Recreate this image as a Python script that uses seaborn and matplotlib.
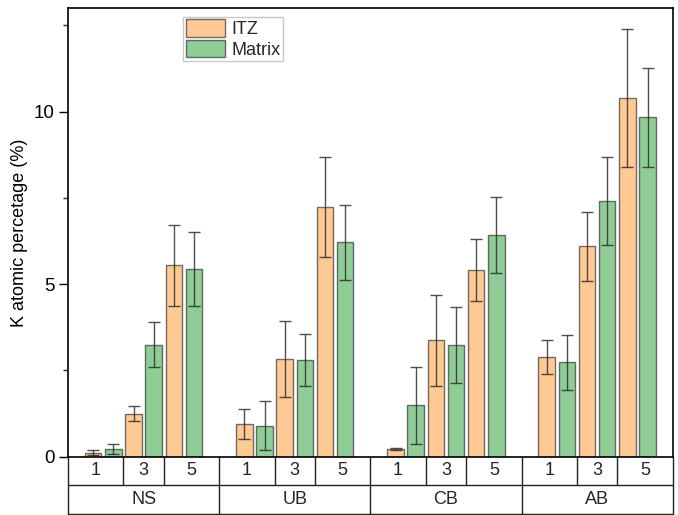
import numpy as np
import pandas as pd
import seaborn as sns
import matplotlib.pyplot as plt
from matplotlib.patches import Patch
from matplotlib.transforms import blended_transform_factory

# Sample groups and durations
groups = ["NS", "UB", "CB", "AB"]
durations = ["1", "3", "5"]
series = ["ITZ", "Matrix"]

# K atomic percentage (mean) and standard deviation per group, duration order 1, 3, 5
itz_mean = {"NS": [0.12, 1.25, 5.55], "UB": [0.95, 2.83, 7.23],
            "CB": [0.23, 3.37, 5.42], "AB": [2.89, 6.10, 10.38]}
itz_err = {"NS": [0.06, 0.22, 1.17], "UB": [0.43, 1.10, 1.44],
           "CB": [0.03, 1.32, 0.90], "AB": [0.50, 1.00, 2.00]}
mat_mean = {"NS": [0.23, 3.25, 5.44], "UB": [0.90, 2.80, 6.21],
            "CB": [1.49, 3.24, 6.43], "AB": [2.73, 7.40, 9.83]}
mat_err = {"NS": [0.14, 0.64, 1.06], "UB": [0.71, 0.76, 1.09],
           "CB": [1.12, 1.10, 1.10], "AB": [0.80, 1.28, 1.43]}

colors = {"ITZ": "#FFC994", "Matrix": "#8FCC96"}

# Layout of the grouped axis: pair spacing 2, group period 7.5
group_period = 7.5
pair_step = 2.0

rows = []
for g, grp in enumerate(groups):
    for i, d in enumerate(durations):
        pos = g * group_period + i * pair_step + 0.5
        rows.append(dict(group=grp, duration=d, pos=pos, series="ITZ",
                         value=itz_mean[grp][i], err=itz_err[grp][i]))
        rows.append(dict(group=grp, duration=d, pos=pos, series="Matrix",
                         value=mat_mean[grp][i], err=mat_err[grp][i]))
df = pd.DataFrame(rows)

sns.set_style("ticks")
plt.rcParams["font.family"] = ["Liberation Sans", "DejaVu Sans"]
fs = 13

fig = plt.figure(figsize=(6.78, 5.15), dpi=100)
ax = fig.add_axes([0.1003, 0.1132, 0.8919, 0.8713])

edge = (0.25, 0.25, 0.25, 0.75)
sns.barplot(data=df, x="pos", y="value", hue="series", hue_order=series,
            native_scale=True, width=1.0, gap=0.18, palette=colors,
            saturation=1, edgecolor=edge, linewidth=1.0,
            errorbar=None, legend=False, ax=ax)

# Error bars at the bar centres
for s, cont in zip(series, ax.containers):
    bars = sorted(cont, key=lambda p: p.get_x())
    sub = df[df.series == s].sort_values("pos")
    xs = [b.get_x() + b.get_width() / 2 for b in bars]
    ax.errorbar(xs, sub["value"].values, yerr=sub["err"].values, fmt="none",
                ecolor=(0.15, 0.15, 0.15, 0.8), elinewidth=1.0, capsize=4,
                capthick=1.0, zorder=5)

x_lo = -1.25
x_hi = (len(groups) - 1) * group_period + 5 + 1.25
ax.set_xlim(x_lo, x_hi)
ax.set_ylim(0, 13)
ax.set_yticks([0, 5, 10])
ax.set_yticks([2.5, 7.5, 12.5], minor=True)
ax.tick_params(axis="y", which="major", length=6.5, width=1.0, direction="out",
               labelsize=13.5, colors="black", pad=3)
ax.tick_params(axis="y", which="minor", length=3.6, width=1.0, direction="out")
ax.tick_params(axis="x", bottom=False, labelbottom=False)
ax.set_xlabel("")
ax.set_ylabel("K atomic percetage (%)", fontsize=fs, labelpad=4, color="black")
for sp in ax.spines.values():
    sp.set_visible(True)
    sp.set_linewidth(1.2)
    sp.set_color("black")

# Two-row category table under the axis
trans = blended_transform_factory(ax.transData, ax.transAxes)
r1 = -0.0637
r2 = -0.1277
lc = dict(color="#222222", lw=1.0, clip_on=False, transform=trans)
for yy in (r1, r2):
    ax.plot([x_lo, x_hi], [yy, yy], **lc)
for g, grp in enumerate(groups):
    g0 = x_lo + g * group_period
    g1 = g0 + group_period
    ax.plot([g0, g0], [0, r2], **lc)
    for b in (1.5, 3.5):
        xb = g * group_period + b
        ax.plot([xb, xb], [0, r1], **lc)
    edges = [g0, g * group_period + 1.5, g * group_period + 3.5, g1]
    for i, d in enumerate(durations):
        ax.text((edges[i] + edges[i + 1]) / 2, r1 / 2, d, ha="center",
                va="center", transform=trans, fontsize=fs)
    ax.text((g0 + g1) / 2, (r1 + r2) / 2, grp, ha="center", va="center",
            transform=trans, fontsize=fs)
ax.plot([x_hi, x_hi], [0, r2], **lc)

handles = [Patch(facecolor=colors[s], edgecolor=edge, linewidth=1.0, label=s)
           for s in series]
leg = ax.legend(handles=handles, loc="upper left", bbox_to_anchor=(0.19, 0.981),
                borderaxespad=0, frameon=True, fancybox=False, fontsize=fs,
                handlelength=2.2, handleheight=1.1, handletextpad=0.35,
                labelspacing=0.1, borderpad=0.15)
leg.get_frame().set_edgecolor("#bbbbbb")
leg.get_frame().set_linewidth(1.0)

fig.savefig("out.png", dpi=100)
